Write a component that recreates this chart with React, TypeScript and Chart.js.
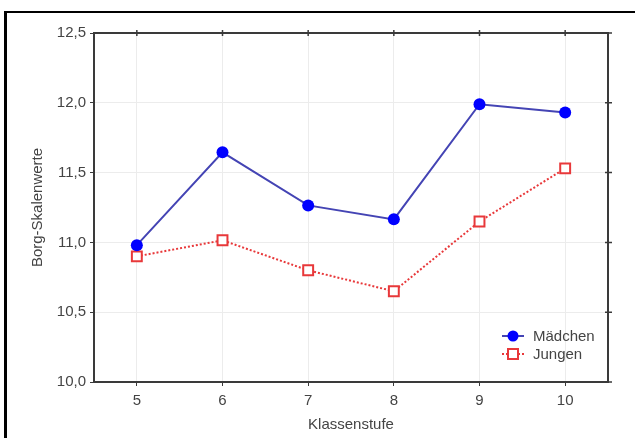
import React, { useEffect, useRef } from "react";
import { Chart, registerables } from "chart.js";

Chart.register(...registerables);

const klassen = [5, 6, 7, 8, 9, 10];
const maedchen = [10.98, 11.645, 11.265, 11.165, 11.99, 11.93];
const jungen = [10.9, 11.015, 10.8, 10.65, 11.15, 11.53];
const yTicks = [10.0, 10.5, 11.0, 11.5, 12.0, 12.5];
const seriesNames = ["Mädchen", "Jungen"];
const xTitle = "Klassenstufe";
const yTitle = "Borg-Skalenwerte";

const FONT = "'Liberation Sans', Arial, sans-serif";
const BLUE_LINE = "#4444b4";
const BLUE_PT = "#0000ff";
const RED = "#e8383a";
const FRAME = "#3a3a3a";

const framePlugin = {
  id: "framePlugin",
  afterDraw(chart: any) {
    const { ctx, chartArea } = chart;
    const { left, right, top, bottom } = chartArea;
    const xs = chart.scales.x;
    const ys = chart.scales.y;
    ctx.save();
    ctx.strokeStyle = FRAME;
    ctx.lineWidth = 2;
    ctx.strokeRect(left, top, right - left, bottom - top);
    // mirrored ticks top & right
    ctx.lineWidth = 1.5;
    ctx.beginPath();
    for (const v of klassen) {
      const px = xs.getPixelForValue(v);
      ctx.moveTo(px, top - 3);
      ctx.lineTo(px, top + 3);
    }
    for (const v of yTicks) {
      const py = ys.getPixelForValue(v);
      ctx.moveTo(right - 3, py);
      ctx.lineTo(right + 4, py);
    }
    ctx.stroke();

    // titles
    ctx.fillStyle = "#444";
    ctx.font = `15px ${FONT}`;
    ctx.textAlign = "center";
    ctx.textBaseline = "middle";
    ctx.fillText(xTitle, (left + right) / 2, 425);
    ctx.translate(38, (top + bottom) / 2);
    ctx.rotate(-Math.PI / 2);
    ctx.fillText(yTitle, 0, 0);
    ctx.restore();

    // legend
    ctx.save();
    const lx = 513;
    const rows = [336, 354];
    // Mädchen
    ctx.strokeStyle = BLUE_LINE;
    ctx.lineWidth = 2;
    ctx.beginPath();
    ctx.moveTo(lx - 11, rows[0]);
    ctx.lineTo(lx + 11, rows[0]);
    ctx.stroke();
    ctx.fillStyle = BLUE_PT;
    ctx.beginPath();
    ctx.arc(lx, rows[0], 5.5, 0, Math.PI * 2);
    ctx.fill();
    // Jungen
    ctx.strokeStyle = RED;
    ctx.setLineDash([2, 2]);
    ctx.beginPath();
    ctx.moveTo(lx - 11, rows[1]);
    ctx.lineTo(lx + 11, rows[1]);
    ctx.stroke();
    ctx.setLineDash([]);
    ctx.fillStyle = "#fff";
    ctx.fillRect(lx - 5, rows[1] - 5, 10, 10);
    ctx.strokeRect(lx - 5, rows[1] - 5, 10, 10);
    ctx.fillStyle = "#444";
    ctx.font = `15px ${FONT}`;
    ctx.textAlign = "left";
    ctx.textBaseline = "middle";
    ctx.fillText(seriesNames[0], 533, rows[0] + 1);
    ctx.fillText(seriesNames[1], 533, rows[1] + 1);
    ctx.restore();
  },
};

export default function App() {
  const ref = useRef<HTMLCanvasElement>(null);
  useEffect(() => {
    if (!ref.current) return;
    const chart = new Chart(ref.current, {
      type: "line",
      data: {
        datasets: [
          {
            label: seriesNames[0],
            data: klassen.map((k, i) => ({ x: k, y: maedchen[i] })),
            borderColor: BLUE_LINE,
            borderWidth: 2,
            pointStyle: "circle",
            pointRadius: 6,
            pointBackgroundColor: BLUE_PT,
            pointBorderColor: BLUE_PT,
            pointBorderWidth: 0,
            tension: 0,
          },
          {
            label: seriesNames[1],
            data: klassen.map((k, i) => ({ x: k, y: jungen[i] })),
            borderColor: RED,
            borderWidth: 2,
            borderDash: [2, 2],
            pointStyle: "rect",
            pointRadius: 7,
            pointBackgroundColor: "#ffffff",
            pointBorderColor: RED,
            pointBorderWidth: 2,
            tension: 0,
          },
        ],
      },
      options: {
        animation: false,
        responsive: false,
        layout: { padding: { top: 33, right: 27, left: 0, bottom: 0 } },
        plugins: {
          legend: { display: false },
          tooltip: { enabled: false },
        },
        scales: {
          x: {
            type: "linear",
            min: 4.5,
            max: 10.5,
            afterBuildTicks: (s: any) => {
              s.ticks = klassen.map((v) => ({ value: v }));
            },
            afterFit: (s: any) => {
              s.height = 56;
            },
            grid: {
              color: "#ececec",
              lineWidth: 1,
              tickLength: 4,
              tickColor: FRAME,
            },
            border: { display: false },
            ticks: {
              color: "#444",
              font: { family: FONT, size: 15 },
              padding: 6,
              maxRotation: 0,
              callback: (v: any) => String(v),
            },
          },
          y: {
            min: 10,
            max: 12.5,
            afterBuildTicks: (s: any) => {
              s.ticks = yTicks.map((v) => ({ value: v }));
            },
            afterFit: (s: any) => {
              s.width = 94;
            },
            grid: {
              color: "#ececec",
              lineWidth: 1,
              tickLength: 4,
              tickColor: FRAME,
            },
            border: { display: false },
            ticks: {
              color: "#444",
              font: { family: FONT, size: 15 },
              padding: 4,
              callback: (v: any) => Number(v).toFixed(1).replace(".", ","),
            },
          },
        },
      },
      plugins: [framePlugin],
    } as any);
    return () => chart.destroy();
  }, []);
  return (
    <div
      style={{
        position: "fixed",
        left: 0,
        top: 0,
        width: 635,
        height: 438,
        overflow: "hidden",
        background: "#fff",
      }}
    >
      <div
        style={{
          position: "absolute",
          left: 4,
          top: 11,
          width: 700,
          height: 600,
          borderTop: "2px solid #000",
          borderLeft: "3px solid #000",
        }}
      />
      <canvas
        ref={ref}
        width={635}
        height={438}
        style={{ position: "absolute", left: 0, top: 0, width: 635, height: 438 }}
      />
    </div>
  );
}
